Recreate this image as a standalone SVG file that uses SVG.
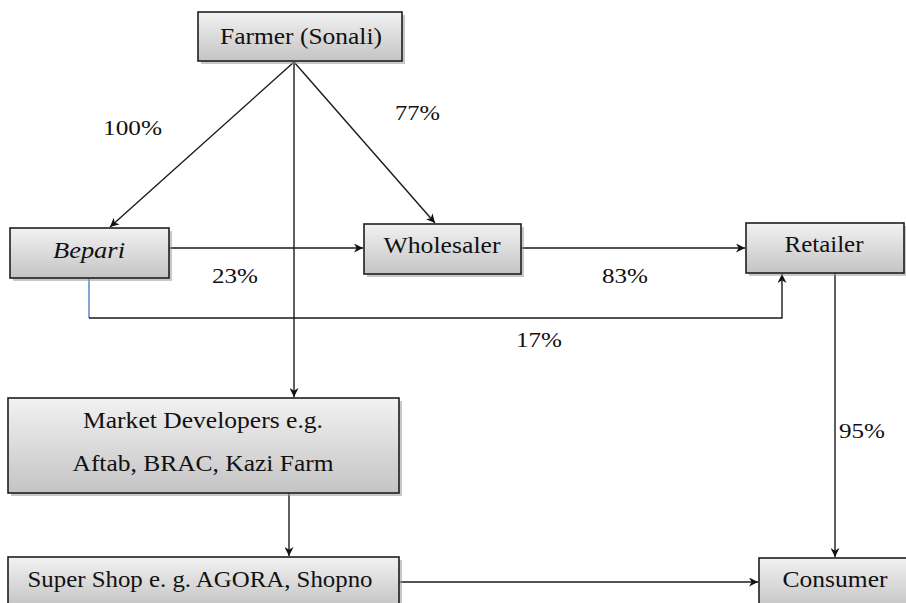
<svg xmlns="http://www.w3.org/2000/svg" width="906" height="603" viewBox="0 0 906 603">
  <defs>
    <linearGradient id="boxg" x1="0" y1="0" x2="0" y2="1">
      <stop offset="0" stop-color="#f2f2f2"/>
      <stop offset="1" stop-color="#c4c4c4"/>
    </linearGradient>
    <marker id="arr" viewBox="0 0 10 10" refX="10" refY="5" markerWidth="9" markerHeight="9" markerUnits="userSpaceOnUse" orient="auto">
      <path d="M0,0 L10,5 L0,10 L3,5 Z" fill="#111"/>
    </marker>
  </defs>
  <style>
    .box { fill: url(#boxg); stroke: #1e1e1e; stroke-width: 1.6; }
    .shadow { fill: #9a9a9a; opacity: 0.55; }
    .t { font-family: 'Liberation Serif', 'Times New Roman', serif; font-size: 23px; text-anchor: middle; fill: #111; }
    .lbl { font-family: 'Liberation Serif', 'Times New Roman', serif; font-size: 22px; fill: #111; }
    .c { fill: none; stroke: #1a1a1a; stroke-width: 1.4; }
    .blue { fill: none; stroke: #4f81bd; stroke-width: 1.4; }
  </style>
  <rect width="906" height="603" fill="#ffffff"/>

  <g id="connectors">
    <line class="c" x1="294" y1="62" x2="110" y2="227" marker-end="url(#arr)"/>
    <line class="c" x1="294" y1="62" x2="435" y2="223" marker-end="url(#arr)"/>
    <line class="c" x1="294" y1="62" x2="294" y2="397" marker-end="url(#arr)"/>
    <line class="c" x1="169" y1="248" x2="363" y2="248" marker-end="url(#arr)"/>
    <line class="c" x1="521" y1="248" x2="745" y2="248" marker-end="url(#arr)"/>
    <line class="blue" x1="89" y1="278" x2="89" y2="318"/>
    <polyline class="c" points="89,318 782,318 782,274" marker-end="url(#arr)"/>
    <line class="c" x1="835" y1="273" x2="835" y2="557" marker-end="url(#arr)"/>
    <line class="c" x1="289" y1="493" x2="289" y2="556" marker-end="url(#arr)"/>
    <line class="c" x1="399" y1="582" x2="758" y2="582" marker-end="url(#arr)"/>
  </g>

  <g id="farmer">
    <rect class="shadow" x="201" y="15" width="204" height="49"/>
    <rect class="box" x="198" y="12" width="204" height="49"/>
    <text class="t" x="301" y="44" textLength="162" lengthAdjust="spacingAndGlyphs">Farmer (Sonali)</text>
  </g>

  <g id="bepari">
    <rect class="shadow" x="13" y="231" width="159" height="50"/>
    <rect class="box" x="10" y="228" width="159" height="50"/>
    <text class="t" x="89" y="258" font-style="italic" textLength="72" lengthAdjust="spacingAndGlyphs">Bepari</text>
  </g>

  <g id="wholesaler">
    <rect class="shadow" x="367" y="227" width="157" height="50"/>
    <rect class="box" x="364" y="224" width="157" height="50"/>
    <text class="t" x="442" y="253" textLength="117" lengthAdjust="spacingAndGlyphs">Wholesaler</text>
  </g>

  <g id="retailer">
    <rect class="shadow" x="749" y="226" width="158" height="50"/>
    <rect class="box" x="746" y="223" width="158" height="50"/>
    <text class="t" x="824" y="252" textLength="79" lengthAdjust="spacingAndGlyphs">Retailer</text>
  </g>

  <g id="market-developers">
    <rect class="shadow" x="11" y="401" width="391" height="95"/>
    <rect class="box" x="8" y="398" width="391" height="95"/>
    <text class="t" x="203" y="428" textLength="240" lengthAdjust="spacingAndGlyphs">Market Developers e.g.</text>
    <text class="t" x="203" y="471" textLength="261" lengthAdjust="spacingAndGlyphs">Aftab, BRAC, Kazi Farm</text>
  </g>

  <g id="super-shop">
    <rect class="shadow" x="11" y="560" width="391" height="50"/>
    <rect class="box" x="8" y="557" width="391" height="50"/>
    <text class="t" x="200" y="587" textLength="345" lengthAdjust="spacingAndGlyphs">Super Shop e. g. AGORA, Shopno</text>
  </g>

  <g id="consumer">
    <rect class="shadow" x="762" y="561" width="150" height="50"/>
    <rect class="box" x="759" y="558" width="150" height="50"/>
    <text class="t" x="835" y="587" textLength="105" lengthAdjust="spacingAndGlyphs">Consumer</text>
  </g>

  <g id="labels">
    <text class="lbl" x="103" y="135" textLength="59" lengthAdjust="spacingAndGlyphs">100%</text>
    <text class="lbl" x="395" y="120" textLength="45" lengthAdjust="spacingAndGlyphs">77%</text>
    <text class="lbl" x="212" y="283" textLength="46" lengthAdjust="spacingAndGlyphs">23%</text>
    <text class="lbl" x="602" y="283" textLength="46" lengthAdjust="spacingAndGlyphs">83%</text>
    <text class="lbl" x="516" y="347" textLength="46" lengthAdjust="spacingAndGlyphs">17%</text>
    <text class="lbl" x="839" y="438" textLength="46" lengthAdjust="spacingAndGlyphs">95%</text>
  </g>
</svg>
